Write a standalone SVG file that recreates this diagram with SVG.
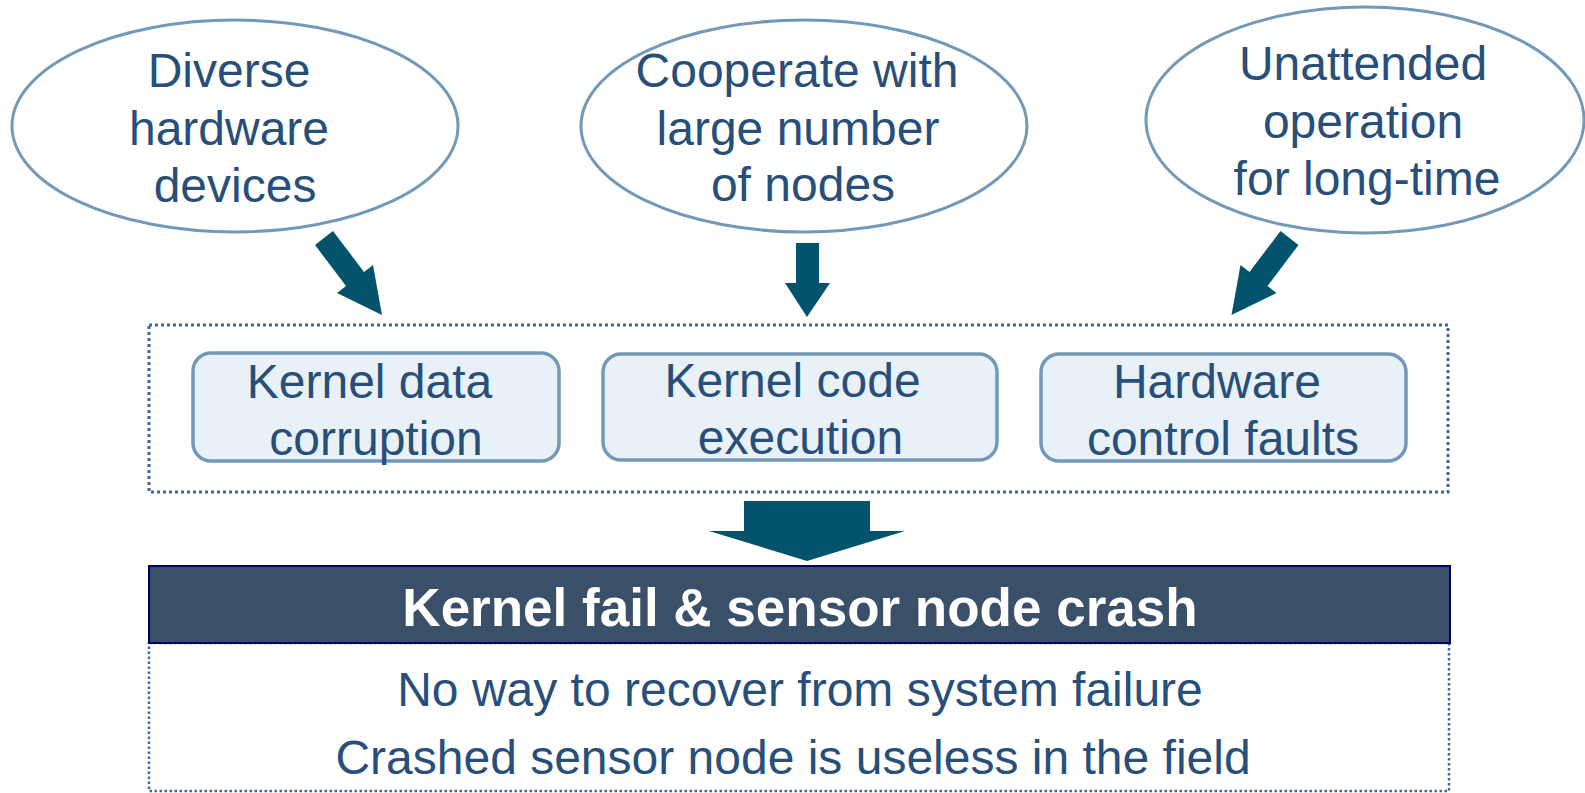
<svg xmlns="http://www.w3.org/2000/svg" width="1585" height="793" viewBox="0 0 1585 793">
  <style>
    .txt { font-family: "Liberation Sans", Arial, sans-serif; font-size: 48px; fill: #284f7a; text-anchor: middle; }
    .cause { fill: #ffffff; stroke: #7399b8; stroke-width: 3; }
    .fault { fill: #e8f0f8; stroke: #7399b8; stroke-width: 3.5; }
    .frame { fill: none; stroke: #3d6b9e; stroke-width: 3; stroke-dasharray: 3 3; }
    .frame-thin { fill: none; stroke: #3d6b9e; stroke-width: 2.5; stroke-dasharray: 2.5 2.5; }
    .arrow { fill: #02536b; }
    .banner { fill: #3a4f68; stroke: #000066; stroke-width: 2; }
    .banner-txt { font-family: "Liberation Sans", Arial, sans-serif; font-size: 53px; font-weight: bold; fill: #ffffff; text-anchor: middle; }
  </style>
  <rect width="1585" height="793" fill="#ffffff"/>

  <!-- Causes -->
  <g id="cause-hardware">
    <ellipse class="cause" cx="235" cy="126" rx="223" ry="106"/>
    <text class="txt" x="229" y="87">Diverse</text>
    <text class="txt" x="229" y="145">hardware</text>
    <text class="txt" x="235" y="202">devices</text>
  </g>
  <g id="cause-cooperation">
    <ellipse class="cause" cx="804" cy="126" rx="223" ry="106"/>
    <text class="txt" x="797" y="87">Cooperate with</text>
    <text class="txt" x="798" y="145">large number</text>
    <text class="txt" x="803" y="201">of nodes</text>
  </g>
  <g id="cause-unattended">
    <ellipse class="cause" cx="1365" cy="120" rx="219" ry="113"/>
    <text class="txt" x="1363" y="80">Unattended</text>
    <text class="txt" x="1363" y="138">operation</text>
    <text class="txt" x="1367" y="195">for long-time</text>
  </g>

  <!-- Fault group -->
  <g id="fault-group">
    <rect class="frame" x="149" y="325" width="1299" height="167"/>
  </g>
  <g id="fault-data">
    <rect class="fault" x="193" y="353" width="366" height="108" rx="18"/>
    <text class="txt" x="369.5" y="398">Kernel data</text>
    <text class="txt" x="376" y="455">corruption</text>
  </g>
  <g id="fault-code">
    <rect class="fault" x="603" y="354" width="394" height="106" rx="18"/>
    <text class="txt" x="792.5" y="397">Kernel code</text>
    <text class="txt" x="800.5" y="454">execution</text>
  </g>
  <g id="fault-hardware">
    <rect class="fault" x="1041" y="354" width="365" height="107" rx="18"/>
    <text class="txt" x="1217" y="398">Hardware</text>
    <text class="txt" x="1223" y="455">control faults</text>
  </g>

  <!-- Result -->
  <g id="result">
    <rect class="frame-thin" x="149" y="643" width="1300" height="148"/>
    <rect class="banner" x="149" y="566" width="1301" height="77"/>
    <text class="banner-txt" x="800" y="626">Kernel fail &amp; sensor node crash</text>
    <text class="txt" x="800" y="706">No way to recover from system failure</text>
    <text class="txt" x="793" y="774">Crashed sensor node is useless in the field</text>
  </g>

  <!-- Connectors -->
  <g id="connectors">
    <polygon class="arrow" points="333,231 364,272 373,265 382,315 337,293 346,286 315,245"/>
    <polygon class="arrow" points="796,243 819,243 819,283 830,283 807,317 785,283 796,283"/>
    <polygon class="arrow" points="1280.5,231 1249.5,272 1240.5,265 1231.5,315 1276.5,293 1267.5,286 1298.5,245"/>
    <polygon class="arrow" points="744,501 870,501 870,531 905,531 807,561 709,531 744,531"/>
  </g>
</svg>
